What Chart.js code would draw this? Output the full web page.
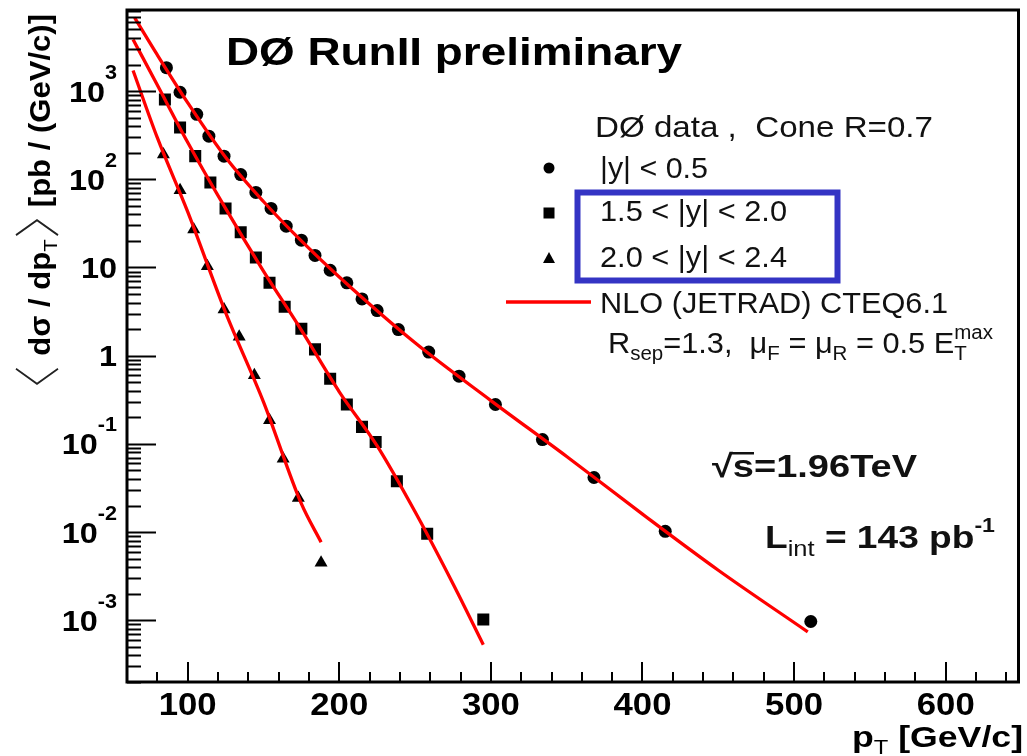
<!DOCTYPE html>
<html lang="en">
<head>
<meta charset="UTF-8" />
<title>DØ RunII inclusive jet cross section</title>
<style>
  body { margin: 0; background: #fff; }
  #wrap { width: 1027px; height: 756px; }
</style>
</head>
<body>
<div id="wrap"><canvas id="xsec" width="1027" height="756" role="img" aria-label="Inclusive jet cross section vs pT"></canvas></div>

<script src="https://cdn.jsdelivr.net/npm/chart.js"></script>
<script>
  // data: pT [GeV/c] and <dsigma/dpT> [pb/(GeV/c)]
  const ptCentral = [86, 95, 106, 114, 124, 135, 145, 155, 165, 175, 184, 194, 205, 215, 225, 239, 259, 279, 303, 334, 368, 415, 511];
  const xsCentral = [1840, 970, 545, 308, 183, 113, 71, 46.7, 29.4, 20.4, 13.7, 9.3, 6.7, 4.4, 3.25, 1.98, 1.10, 0.586, 0.280, 0.112, 0.0416, 0.0102, 0.00097];

  const ptFwd = [85, 95, 105, 115, 125, 135, 145, 154, 164, 175, 184, 194, 205, 215, 224, 238, 258, 295];
  const xsFwd = [803, 386, 183, 92, 46.7, 25.1, 13.0, 6.7, 3.58, 2.02, 1.18, 0.547, 0.280, 0.156, 0.105, 0.0378, 0.0096, 0.00102];

  const ptVfwd = [84, 95, 104, 113, 124, 134, 144, 154, 163, 173, 188];
  const xsVfwd = [191, 75, 27, 10.3, 3.34, 1.64, 0.60, 0.186, 0.068, 0.0244, 0.0045];

  // NLO (JETRAD) curves
  const nloPtCentral = [65, 80, 100, 125, 150, 175, 200, 250, 300, 350, 400, 450, 509];
  const nloCentral = [6800, 2570, 740, 178, 56, 20, 7.8, 1.4, 0.31, 0.072, 0.016, 0.0037, 0.00074];
  const nloPtFwd = [64, 80, 100, 125, 150, 175, 200, 225, 250, 275, 295];
  const nloFwd = [3850, 1170, 263, 46.7, 9.1, 1.95, 0.39, 0.095, 0.017, 0.0026, 0.00053];
  const nloPtVfwd = [64, 80, 100, 125, 150, 175, 188];
  const nloVfwd = [1710, 296, 43, 3.1, 0.30, 0.021, 0.0077];

  const xTicks = [100, 200, 300, 400, 500, 600];
  const yDecades = [-3, -2, -1, 0, 1, 2, 3];

  const FONT = "'Liberation Sans', Arial, sans-serif";
  const RED = '#ff0000';

  const pts = (xs, ys) => xs.map((x, i) => ({ x, y: ys[i] }));

  // draw a row of text pieces, squeezed/stretched to a given width
  function drawRuns(ctx, runs, x, y, width, align) {
    let w = 0;
    runs.forEach(r => {
      ctx.font = r.font;
      let rw = r.t ? ctx.measureText(r.t).width : 0;
      if (r.t2) rw = Math.max(rw, ctx.measureText(r.t2).width);
      if (r.w) rw = r.w;
      r._w = rw;
      w += rw;
    });
    const sx = width ? width / w : 1.08;
    const total = w * sx;
    const x0 = align === 'right' ? x - total : align === 'center' ? x - total / 2 : x;
    ctx.save();
    ctx.translate(x0, y);
    ctx.scale(sx, 1);
    ctx.textBaseline = 'alphabetic';
    ctx.textAlign = 'left';
    let cx = 0;
    runs.forEach(r => {
      ctx.font = r.font;
      if (r.t) ctx.fillText(r.t, cx, r.dy || 0);
      if (r.t2) ctx.fillText(r.t2, cx, r.dy2 || 0);
      if (r.draw) r.draw(ctx, cx, r._w);
      cx += r._w;
    });
    ctx.restore();
  }

  function bracket(dir) {
    return (ctx, cx, w) => {
      ctx.save();
      ctx.lineWidth = 1.8;
      ctx.strokeStyle = '#222';
      ctx.beginPath();
      if (dir === 'l') {
        ctx.moveTo(cx + w - 4, -34); ctx.lineTo(cx + 4, -13); ctx.lineTo(cx + w - 4, 8);
      } else {
        ctx.moveTo(cx + 4, -34); ctx.lineTo(cx + w - 4, -13); ctx.lineTo(cx + 4, 8);
      }
      ctx.stroke();
      ctx.restore();
    };
  }

  const framePlugin = {
    id: 'rootFrame',
    afterDatasetsDraw(chart) {
      const { ctx, chartArea: a, scales } = chart;
      const xs = scales.x, ys = scales.y;
      ctx.save();
      ctx.fillStyle = '#000';
      ctx.strokeStyle = '#000';

      // ticks on the left axis
      ctx.lineWidth = 2;
      for (let k = -4; k <= 3; k++) {
        for (let m = 1; m <= 9; m++) {
          const v = m * Math.pow(10, k);
          if (v < ys.min || v > ys.max) continue;
          const py = Math.round(ys.getPixelForValue(v)) + 0.5;
          const len = m === 1 ? 29 : 14;
          ctx.beginPath(); ctx.moveTo(a.left, py); ctx.lineTo(a.left + len, py); ctx.stroke();
        }
      }
      // ticks on the bottom axis
      for (let v = 60; v <= xs.max; v += 20) {
        const px = Math.round(xs.getPixelForValue(v));
        const len = v % 100 === 0 ? 20 : 10;
        ctx.beginPath(); ctx.moveTo(px, a.bottom); ctx.lineTo(px, a.bottom - len); ctx.stroke();
      }

      // frame
      ctx.lineWidth = 3;
      ctx.strokeRect(a.left, a.top, a.right - a.left, a.bottom - a.top);

      // x tick labels
      xTicks.forEach(v => {
        drawRuns(ctx, [{ t: String(v), font: `bold 32px ${FONT}` }], xs.getPixelForValue(v), 715, 58, 'center');
      });
      // y tick labels
      yDecades.forEach(k => {
        const py = ys.getPixelForValue(Math.pow(10, k));
        let runs;
        if (k === 0) runs = [{ t: '1', font: `bold 30px ${FONT}` }];
        else if (k === 1) runs = [{ t: '10', font: `bold 30px ${FONT}` }];
        else runs = [{ t: '10', font: `bold 30px ${FONT}` }, { t: String(k), font: `bold 20px ${FONT}`, dy: -23 }];
        drawRuns(ctx, runs, 117, py + 10.5, null, 'right');
      });

      // axis titles
      drawRuns(ctx, [
        { t: 'p', font: `bold 30px ${FONT}` },
        { t: 'T', font: `20px ${FONT}`, dy: 7 },
        { t: ' [GeV/c]', font: `bold 30px ${FONT}` }
      ], 852, 747, 171, 'left');

      ctx.save();
      ctx.translate(50, 388);
      ctx.rotate(-Math.PI / 2);
      drawRuns(ctx, [
        { w: 22, font: `bold 29px ${FONT}`, draw: bracket('l') },
        { t: ' dσ / dp', font: `bold 29px ${FONT}` },
        { t: 'T', font: `19px ${FONT}`, dy: 7 },
        { w: 22, font: `bold 29px ${FONT}`, draw: bracket('r') },
        { t: ' [pb / (GeV/c)]', font: `bold 29px ${FONT}` }
      ], 0, 0, 374, 'left');
      ctx.restore();

      // title
      drawRuns(ctx, [{ t: 'DØ RunII preliminary', font: `bold 39px ${FONT}` }], 226, 65, 456, 'left');

      // legend
      ctx.fillStyle = '#111';
      drawRuns(ctx, [{ t: 'DØ data ,  Cone R=0.7', font: `30px ${FONT}` }], 595, 137, 338, 'left');
      drawRuns(ctx, [{ t: '|y| < 0.5', font: `30px ${FONT}` }], 600, 178, 108, 'left');
      drawRuns(ctx, [{ t: '1.5 < |y| < 2.0', font: `30px ${FONT}` }], 600, 221, 187, 'left');
      drawRuns(ctx, [{ t: '2.0 < |y| < 2.4', font: `30px ${FONT}` }], 600, 267, 187, 'left');
      drawRuns(ctx, [{ t: 'NLO (JETRAD) CTEQ6.1', font: `30px ${FONT}` }], 600, 313, 348, 'left');
      drawRuns(ctx, [
        { t: 'R', font: `30px ${FONT}` },
        { t: 'sep', font: `20px ${FONT}`, dy: 7 },
        { t: '=1.3,  μ', font: `30px ${FONT}` },
        { t: 'F', font: `20px ${FONT}`, dy: 7 },
        { t: ' = μ', font: `30px ${FONT}` },
        { t: 'R', font: `20px ${FONT}`, dy: 7 },
        { t: ' = 0.5 E', font: `30px ${FONT}` },
        { t: 'T', t2: 'max', font: `20px ${FONT}`, dy: 7, dy2: -14 }
      ], 608, 353, 385, 'left');

      ctx.fillStyle = '#000';
      ctx.beginPath(); ctx.arc(549, 168, 5.5, 0, Math.PI * 2); ctx.fill();
      ctx.fillRect(543.5, 207.5, 11, 11);
      ctx.beginPath(); ctx.moveTo(549, 252); ctx.lineTo(555, 263); ctx.lineTo(543, 263); ctx.closePath(); ctx.fill();

      ctx.strokeStyle = RED;
      ctx.lineWidth = 3.5;
      ctx.beginPath(); ctx.moveTo(506, 302); ctx.lineTo(591, 302); ctx.stroke();

      ctx.strokeStyle = '#3434c4';
      ctx.lineWidth = 6;
      ctx.strokeRect(577.5, 192.5, 260, 88);

      // run conditions
      ctx.fillStyle = '#111';
      drawRuns(ctx, [
        { t: '√', font: `bold 32px ${FONT}` },
        { t: 's', font: `bold 32px ${FONT}`, draw: (c, cx, w) => { c.fillRect(cx - 1, -25, w + 1, 2.5); } },
        { t: '=1.96TeV', font: `bold 32px ${FONT}` }
      ], 712, 477, 205, 'left');
      drawRuns(ctx, [
        { t: 'L', font: `bold 32px ${FONT}` },
        { t: 'int', font: `22px ${FONT}`, dy: 8 },
        { t: ' = 143 pb', font: `bold 32px ${FONT}` },
        { t: '-1', font: `bold 20px ${FONT}`, dy: -16 }
      ], 765, 548, 230, 'left');

      ctx.restore();
    }
  };

  const nloStyle = {
    showLine: true,
    pointRadius: 0,
    borderColor: RED,
    backgroundColor: RED,
    borderWidth: 3.3,
    cubicInterpolationMode: 'monotone'
  };
  const dataStyle = {
    showLine: false,
    backgroundColor: '#000',
    borderColor: '#000',
    borderWidth: 0
  };

  const chart = new Chart(document.getElementById('xsec').getContext('2d'), {
    type: 'scatter',
    data: {
      datasets: [
        { label: 'NLO |y|<0.5', data: pts(nloPtCentral, nloCentral), ...nloStyle },
        { label: 'NLO 1.5<|y|<2.0', data: pts(nloPtFwd, nloFwd), ...nloStyle },
        { label: 'NLO 2.0<|y|<2.4', data: pts(nloPtVfwd, nloVfwd), ...nloStyle },
        { label: '|y| < 0.5', data: pts(ptCentral, xsCentral), ...dataStyle, pointStyle: 'circle', pointRadius: 6.5 },
        { label: '1.5 < |y| < 2.0', data: pts(ptFwd, xsFwd), ...dataStyle, pointStyle: 'rect', pointRadius: 8.5 },
        { label: '2.0 < |y| < 2.4', data: pts(ptVfwd, xsVfwd), ...dataStyle, pointStyle: 'triangle', pointRadius: 7.5 }
      ]
    },
    options: {
      responsive: false,
      animation: false,
      layout: { padding: { left: 127, top: 10, right: 4, bottom: 74 } },
      scales: {
        x: { type: 'linear', min: 60, max: 648, display: false },
        y: { type: 'logarithmic', min: 2e-4, max: 8.3e3, display: false }
      },
      plugins: {
        legend: { display: false },
        tooltip: { enabled: false }
      }
    },
    plugins: [framePlugin]
  });
</script>
</body>
</html>
